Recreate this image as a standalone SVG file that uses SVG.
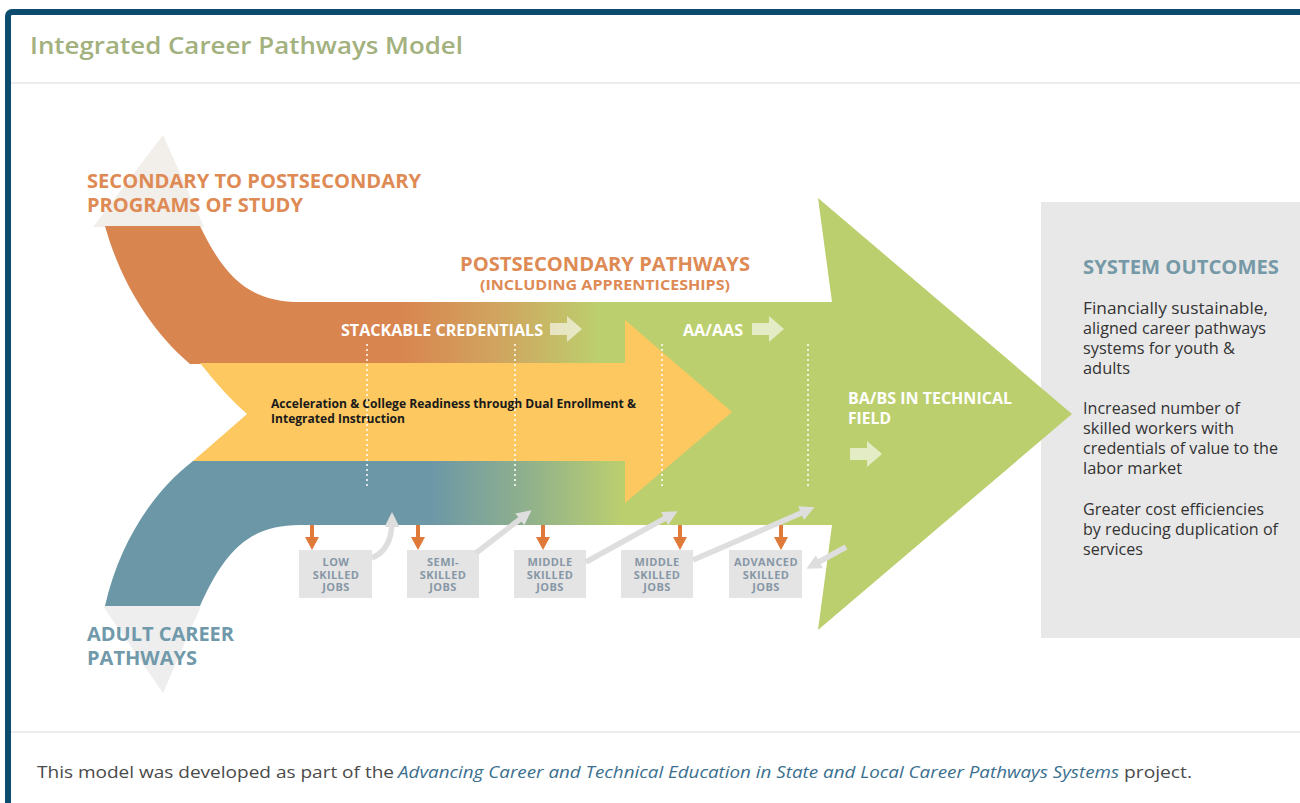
<svg xmlns="http://www.w3.org/2000/svg" width="1300" height="803" viewBox="0 0 1300 803">
<style>
.t{font-family:"Open Sans","Noto Sans","DejaVu Sans",sans-serif}
.lbl{font-weight:700;font-size:20px}
.org{fill:#de8a55}
.blu{fill:#7099aa}
.wht{font-weight:700;font-size:16px;fill:#ffffff}
.job{font-weight:700;font-size:11px;letter-spacing:0.4px;fill:#8797a6;text-anchor:middle}
.box{fill:#e4e4e4}
.out{font-size:15.5px;fill:#333333}
.dot{stroke:#ffffff;stroke-width:2;stroke-dasharray:2 3;opacity:0.75;fill:none}
.gar{stroke:#dedede;stroke-width:5.5;fill:none;marker-end:url(#gh)}
.blk{fill:#ffffff;opacity:0.6}
</style>
<defs>
<linearGradient id="gO" gradientUnits="userSpaceOnUse" x1="400" y1="0" x2="600" y2="0">
<stop offset="0" stop-color="#d9854f"/><stop offset="0.5" stop-color="#d0a55f"/><stop offset="1" stop-color="#bccf6e"/>
</linearGradient>
<linearGradient id="gB" gradientUnits="userSpaceOnUse" x1="430" y1="0" x2="625" y2="0">
<stop offset="0" stop-color="#6c97a7"/><stop offset="0.5" stop-color="#90b18c"/><stop offset="1" stop-color="#bccf6e"/>
</linearGradient>
<marker id="gh" viewBox="0 0 10 10" refX="4" refY="5" markerWidth="2.7" markerHeight="2.7" orient="auto" markerUnits="strokeWidth">
<path d="M0,0 L10,5 L0,10 Z" fill="#dedede"/>
</marker>
<path id="dn" d="M-2,0 L2,0 L2,12 L7,12 L0,25 L-7,12 L-2,12 Z" fill="#e07a3a"/>
<path id="ba" d="M0,7 L17,7 L17,0 L32,13 L17,26 L17,19 L0,19 Z"/>
</defs>

<rect x="8" y="12" width="1310" height="810" rx="4" fill="#ffffff" stroke="#0b4c6e" stroke-width="6"/>
<line x1="11" y1="83" x2="1300" y2="83" stroke="#e6e6e6" stroke-width="1.5"/>
<line x1="11" y1="732" x2="1300" y2="732" stroke="#e6e6e6" stroke-width="1.5"/>
<text class="t" x="30" y="54" font-size="23" font-weight="600" fill="#a3b17e" textLength="433" lengthAdjust="spacingAndGlyphs">Integrated Career Pathways Model</text>

<g id="outcomes">
<rect x="1041" y="202" width="270" height="436" fill="#e8e8e8"/>
<text class="t lbl" x="1083" y="274" fill="#7599a7" textLength="196" lengthAdjust="spacingAndGlyphs">SYSTEM OUTCOMES</text>
<text class="t out" x="1083" y="314" textLength="185" lengthAdjust="spacingAndGlyphs">Financially sustainable,</text>
<text class="t out" x="1083" y="334" textLength="183" lengthAdjust="spacingAndGlyphs">aligned career pathways</text>
<text class="t out" x="1083" y="354" textLength="152" lengthAdjust="spacingAndGlyphs">systems for youth &amp;</text>
<text class="t out" x="1083" y="374" textLength="47" lengthAdjust="spacingAndGlyphs">adults</text>
<text class="t out" x="1083" y="414" textLength="157" lengthAdjust="spacingAndGlyphs">Increased number of</text>
<text class="t out" x="1083" y="434" textLength="151" lengthAdjust="spacingAndGlyphs">skilled workers with</text>
<text class="t out" x="1083" y="454" textLength="195" lengthAdjust="spacingAndGlyphs">credentials of value to the</text>
<text class="t out" x="1083" y="474" textLength="99" lengthAdjust="spacingAndGlyphs">labor market</text>
<text class="t out" x="1083" y="515" textLength="181" lengthAdjust="spacingAndGlyphs">Greater cost efficiencies</text>
<text class="t out" x="1083" y="535" textLength="195" lengthAdjust="spacingAndGlyphs">by reducing duplication of</text>
<text class="t out" x="1083" y="555" textLength="60" lengthAdjust="spacingAndGlyphs">services</text>
</g>

<g id="tails">
<polygon points="163,135 93,227 204,227" fill="#f2eee9"/>
<polygon points="103,606 163,693 201,606" fill="#eeeeee"/>
</g>

<g id="green-arrow">
<path d="M560,302 L832,302 L818,198 L1072,414 L818,630 L832,525 L560,525 Z" fill="#bccf6e"/>
</g>

<g id="secondary-band">
<path d="M105,226 L200,226 C225,278 250,302 300,302 L832,302 L832,364 L190,364 C150,330 120,280 105,226 Z" fill="url(#gO)"/>
</g>

<g id="adult-band">
<path d="M193,461 L832,461 L832,525 L300,525 C250,525 225,550 200,606 L105,606 C120,540 155,490 193,461 Z" fill="url(#gB)"/>
</g>

<g id="dual-arrow">
<path d="M200,363 L625,363 L625,320 L732,412 L625,503 L625,461 L193,461 Q222,436 247,414 Q225,395 200,363 Z" fill="#fdc860"/>
<text class="t" x="271" y="408" font-size="11.7" font-weight="700" fill="#1a1a1a" textLength="365" lengthAdjust="spacingAndGlyphs">Acceleration &amp; College Readiness through Dual Enrollment &amp;</text>
<text class="t" x="271" y="423" font-size="11.7" font-weight="700" fill="#1a1a1a" textLength="134" lengthAdjust="spacingAndGlyphs">Integrated Instruction</text>
</g>

<g id="dividers">
<line class="dot" x1="367" y1="344" x2="367" y2="486"/>
<line class="dot" x1="515" y1="344" x2="515" y2="486"/>
<line class="dot" x1="662" y1="344" x2="662" y2="486"/>
<line class="dot" x1="808" y1="344" x2="808" y2="486"/>
</g>

<g id="labels">
<text class="t lbl org" x="87" y="188" textLength="334" lengthAdjust="spacingAndGlyphs">SECONDARY TO POSTSECONDARY</text>
<text class="t lbl org" x="87" y="212" textLength="216" lengthAdjust="spacingAndGlyphs">PROGRAMS OF STUDY</text>
<text class="t lbl org" x="460" y="271" textLength="290" lengthAdjust="spacingAndGlyphs">POSTSECONDARY PATHWAYS</text>
<text class="t org" x="480" y="290" font-size="15" font-weight="700" textLength="250" lengthAdjust="spacingAndGlyphs">(INCLUDING APPRENTICESHIPS)</text>
<text class="t lbl blu" x="87" y="641" textLength="147" lengthAdjust="spacingAndGlyphs">ADULT CAREER</text>
<text class="t lbl blu" x="87" y="665" textLength="110" lengthAdjust="spacingAndGlyphs">PATHWAYS</text>
</g>

<g id="stackable">
<text class="t wht" x="341" y="336" textLength="202" lengthAdjust="spacingAndGlyphs">STACKABLE CREDENTIALS</text>
<use href="#ba" class="blk" x="550" y="316"/>
</g>
<g id="aa-aas">
<text class="t wht" x="683" y="336" textLength="60" lengthAdjust="spacingAndGlyphs">AA/AAS</text>
<use href="#ba" class="blk" x="752" y="316"/>
</g>
<g id="ba-bs">
<text class="t wht" x="848" y="404" textLength="164" lengthAdjust="spacingAndGlyphs">BA/BS IN TECHNICAL</text>
<text class="t wht" x="848" y="424" textLength="43" lengthAdjust="spacingAndGlyphs">FIELD</text>
<use href="#ba" class="blk" x="850" y="441"/>
</g>

<g id="job-low">
<rect class="box" x="299" y="550" width="73" height="48"/>
<text class="t job" x="336" y="566">LOW</text>
<text class="t job" x="336" y="578.5">SKILLED</text>
<text class="t job" x="336" y="591">JOBS</text>
</g>
<g id="job-semi">
<rect class="box" x="407" y="550" width="72" height="48"/>
<text class="t job" x="443" y="566">SEMI-</text>
<text class="t job" x="443" y="578.5">SKILLED</text>
<text class="t job" x="443" y="591">JOBS</text>
</g>
<g id="job-middle1">
<rect class="box" x="514" y="550" width="72" height="48"/>
<text class="t job" x="550" y="566">MIDDLE</text>
<text class="t job" x="550" y="578.5">SKILLED</text>
<text class="t job" x="550" y="591">JOBS</text>
</g>
<g id="job-middle2">
<rect class="box" x="621" y="550" width="72" height="48"/>
<text class="t job" x="657" y="566">MIDDLE</text>
<text class="t job" x="657" y="578.5">SKILLED</text>
<text class="t job" x="657" y="591">JOBS</text>
</g>
<g id="job-advanced">
<rect class="box" x="729" y="550" width="73" height="48"/>
<text class="t job" x="766" y="566">ADVANCED</text>
<text class="t job" x="766" y="578.5">SKILLED</text>
<text class="t job" x="766" y="591">JOBS</text>
</g>

<g id="connectors">
<use href="#dn" x="312" y="525"/>
<use href="#dn" x="418" y="525"/>
<use href="#dn" x="543" y="525"/>
<use href="#dn" x="680" y="525"/>
<use href="#dn" x="781" y="525"/>
<path class="gar" d="M372,558 C386,552 392,540 392,521"/>
<path class="gar" d="M476,553 L524.5,515.7"/>
<path class="gar" d="M586,562 L669.8,515.6"/>
<path class="gar" d="M693,560 L806.4,510.7"/>
<path class="gar" d="M846,547 L814.2,564.5"/>
</g>

<g id="footer">
<text class="t" x="37" y="778" font-size="16" fill="#4a4a4a" textLength="357" lengthAdjust="spacingAndGlyphs">This model was developed as part of the</text>
<text class="t" x="398" y="778" font-size="16" font-style="italic" fill="#3a6f8f" textLength="721" lengthAdjust="spacingAndGlyphs">Advancing Career and Technical Education in State and Local Career Pathways Systems</text>
<text class="t" x="1124" y="778" font-size="16" fill="#4a4a4a" textLength="68" lengthAdjust="spacingAndGlyphs">project.</text>
</g>
</svg>
